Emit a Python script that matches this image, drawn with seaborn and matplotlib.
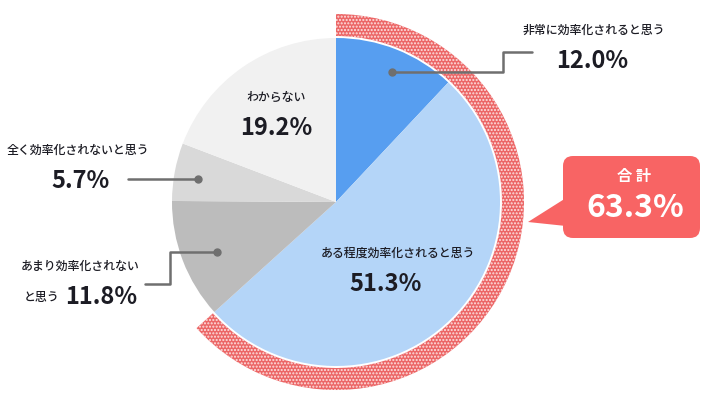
import matplotlib
matplotlib.use("Agg")
import matplotlib.pyplot as plt
import seaborn as sns
from matplotlib.patches import FancyBboxPatch, Polygon

# data
labels = ["非常に効率化されると思う", "ある程度効率化されると思う", "あまり効率化されない\nと思う",
          "全く効率化されないと思う", "わからない"]
values = [12.0, 51.3, 11.8, 5.7, 19.2]
colors = ["#579ef0", "#b4d5f8", "#bcbcbc", "#d9d9d9", "#f1f1f1"]
total_label = "合 計"
total_value = sum(values[:2])

sns.set_theme(style="white")
plt.rcParams["font.family"] = ["Noto Sans CJK JP", "DejaVu Sans"]
plt.rcParams["hatch.linewidth"] = 1.0

fig = plt.figure(figsize=(7.18, 3.99), dpi=100)
ax = fig.add_axes([0, 0, 1, 1])

cx, cy = 336, 202

# main pie (y axis inverted, so counterclock=True draws clockwise on screen)
ax.pie(values, colors=colors, startangle=-90, counterclock=True,
       center=(cx, cy), radius=164, wedgeprops=dict(linewidth=0), frame=True)

# outer dotted ring for the "efficient" total
ring = ax.pie([total_value, 100 - total_value], colors=["#ec6666", "none"],
              startangle=-90, counterclock=True, center=(cx, cy), radius=188,
              wedgeprops=dict(width=22, linewidth=0), frame=True)
ring[0][0].set_hatch(".....")
ring[0][0].set_edgecolor("#fde2e2")
ring[0][0].set_linewidth(0)
ring[0][1].set_visible(False)

ax.set_xlim(0, 718)
ax.set_ylim(399, 0)
ax.set_aspect("equal")
ax.axis("off")

txt = "#1c1c24"
lc = "#6f6f6f"

# leader lines
ax.plot([392, 503, 503, 532], [72, 72, 52, 52], color=lc, lw=1.8)
ax.plot(392, 72, "o", color=lc, ms=5)
ax.plot([128, 198], [179, 179], color=lc, lw=1.8)
ax.plot(198, 179, "o", color=lc, ms=5)
ax.plot([145, 170, 170, 217], [284, 284, 252, 252], color=lc, lw=1.8)
ax.plot(217, 252, "o", color=lc, ms=5)

# labels
lab = dict(ha="center", va="center", fontsize=8.6, fontweight="medium", color=txt)
num = dict(ha="center", va="center", fontsize=17, fontweight="bold", color=txt)
ax.text(594, 30, labels[0], **lab)
ax.text(592, 61, f"{values[0]:.1f}%", **num)
ax.text(398, 253, labels[1], **lab)
ax.text(386, 284, f"{values[1]:.1f}%", **num)
ax.text(80, 266, labels[2].split("\n")[0], **lab)
ax.text(42, 298, labels[2].split("\n")[1], **lab)
ax.text(101, 297, f"{values[2]:.1f}%", **num)
ax.text(78, 150, labels[3], **lab)
ax.text(81, 181, f"{values[3]:.1f}%", **num)
ax.text(276, 97, labels[4], **lab)
ax.text(276, 128, f"{values[4]:.1f}%", **num)

# callout box
box_c = "#f86464"
ax.add_patch(Polygon([[528, 222], [566, 198], [566, 226]], closed=True,
                     facecolor=box_c, edgecolor="none"))
ax.add_patch(FancyBboxPatch((563, 156), 137, 82, boxstyle="round,pad=0,rounding_size=10",
                            facecolor=box_c, edgecolor="none"))
ax.text(634, 176, total_label, ha="center", va="center", fontsize=11,
        fontweight="bold", color="white")
ax.text(635, 208, f"{total_value:.1f}%", ha="center", va="center", fontsize=23,
        fontweight="bold", color="white")

fig.savefig("out.png", dpi=100)
